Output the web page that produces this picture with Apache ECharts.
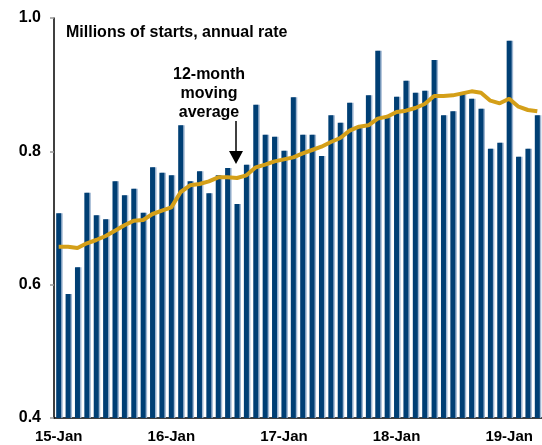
<!DOCTYPE html>
<html>
<head>
<meta charset="utf-8">
<script src="https://cdn.jsdelivr.net/npm/echarts@6/dist/echarts.min.js"></script>
<style>
  html, body { margin: 0; padding: 0; background: #fff; }
  #main { width: 542px; height: 445px; }
</style>
</head>
<body>
<div id="main"></div>
<script>
var years = ['15', '16', '17', '18', '19'];
var months = ['Jan', 'Feb', 'Mar', 'Apr', 'May', 'Jun', 'Jul', 'Aug', 'Sep', 'Oct', 'Nov', 'Dec'];
var monthCount = 52; // Jan 2015 .. Apr 2019

// monthly housing starts, millions, annual rate
var starts = [
    0.707, 0.586, 0.626, 0.738, 0.704, 0.698, 0.755, 0.734, 0.744, 0.708, 0.776, 0.768,
    0.764, 0.839, 0.755, 0.770, 0.737, 0.764, 0.775, 0.721, 0.780, 0.870, 0.825, 0.822,
    0.801, 0.881, 0.825, 0.825, 0.793, 0.854, 0.843, 0.873, 0.835, 0.884, 0.951, 0.851,
    0.882, 0.906, 0.888, 0.891, 0.937, 0.854, 0.860, 0.888, 0.879, 0.864, 0.804, 0.813,
    0.966, 0.792, 0.804, 0.854
];
// 12-month moving average
var movingAvg = [
    0.657, 0.657, 0.655, 0.662, 0.667, 0.673, 0.681, 0.689, 0.696, 0.697, 0.706, 0.711,
    0.716, 0.739, 0.749, 0.751, 0.755, 0.761, 0.761, 0.760, 0.764, 0.776, 0.780, 0.785,
    0.788, 0.791, 0.797, 0.802, 0.807, 0.814, 0.820, 0.831, 0.837, 0.839, 0.849, 0.852,
    0.859, 0.861, 0.865, 0.871, 0.883, 0.883, 0.884, 0.887, 0.890, 0.888, 0.876, 0.872,
    0.879, 0.867, 0.862, 0.860
];

var categories = [];
for (var i = 0; i < monthCount; i++) {
    categories.push(years[Math.floor(i / 12)] + '-' + months[i % 12]);
}

var font = "'Liberation Sans', Arial, sans-serif";
var myChart = echarts.init(document.getElementById('main'));

myChart.setOption({
    animation: false,
    grid: { left: 54, right: -5, top: 18, bottom: 27 },
    xAxis: {
        type: 'category',
        data: categories,
        axisLine: { lineStyle: { color: '#000', width: 1.5 } },
        axisTick: { interval: 11, length: 4, lineStyle: { color: '#999', width: 1.5 } },
        axisLabel: {
            interval: 11,
            margin: 11,
            color: '#000',
            fontFamily: font,
            fontWeight: 'bold',
            fontSize: 15
        }
    },
    yAxis: {
        type: 'value',
        min: 0.4,
        max: 1.0,
        interval: 0.2,
        splitLine: { show: false },
        axisLine: { show: true, lineStyle: { color: '#000', width: 1.5 } },
        axisTick: { show: true, length: 4, lineStyle: { color: '#999', width: 1.5 } },
        axisLabel: {
            margin: 13,
            color: '#000',
            fontFamily: font,
            fontWeight: 'bold',
            fontSize: 16,
            formatter: function (v) { return v.toFixed(1); }
        }
    },
    series: [
        {
            name: 'Starts',
            type: 'bar',
            data: starts,
            barWidth: 5,
            itemStyle: {
                color: '#003f74',
                shadowColor: 'rgba(150,175,205,0.9)',
                shadowOffsetX: 1.5,
                shadowBlur: 0
            }
        },
        {
            name: '12-month moving average',
            type: 'line',
            data: movingAvg,
            symbol: 'none',
            lineStyle: { color: '#d49f18', width: 4 },
            z: 3
        }
    ],
    graphic: [
        {
            type: 'text',
            left: 66,
            top: 25,
            style: {
                text: 'Millions of starts, annual rate',
                fill: '#000',
                font: "bold 16px 'Liberation Sans', Arial, sans-serif"
            }
        },
        {
            type: 'text',
            x: 209,
            y: 65,
            style: {
                text: '12-month\nmoving\naverage',
                fill: '#000',
                align: 'center',
                lineHeight: 19,
                font: "bold 16px 'Liberation Sans', Arial, sans-serif"
            }
        },
        {
            type: 'line',
            shape: { x1: 236, y1: 121, x2: 236, y2: 153 },
            style: { stroke: '#000', lineWidth: 1.5 }
        },
        {
            type: 'polygon',
            shape: { points: [[229, 151], [243, 151], [236, 164]] },
            style: { fill: '#000' }
        }
    ]
});
</script>
</body>
</html>
